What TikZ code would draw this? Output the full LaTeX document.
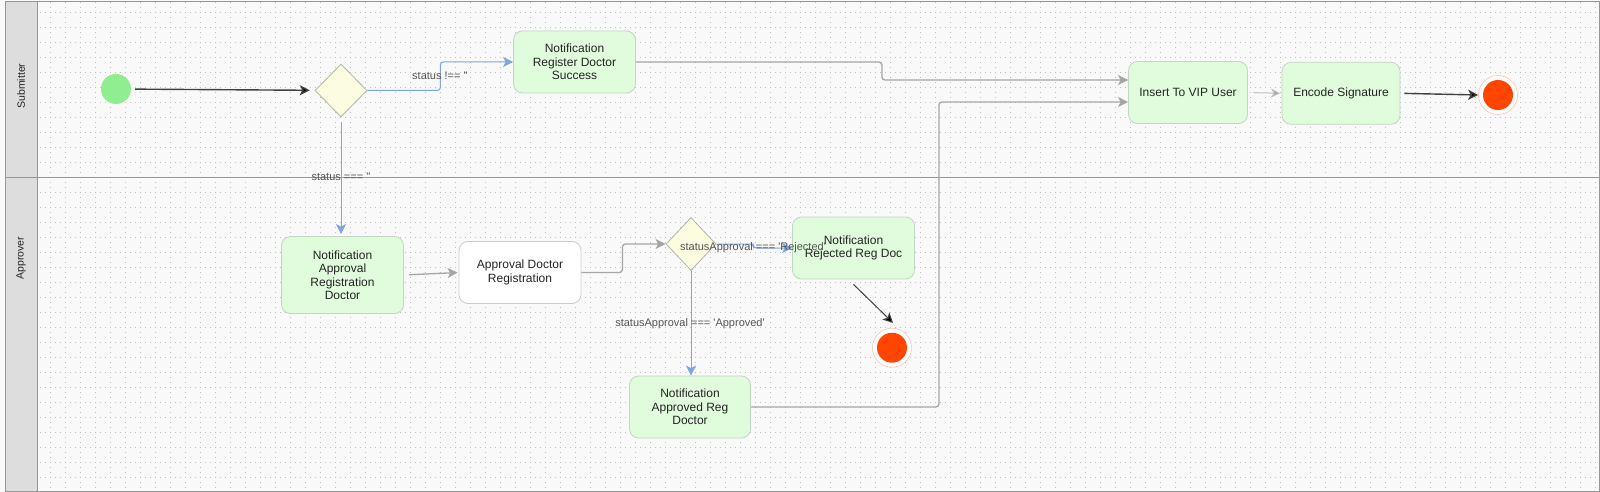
\documentclass[tikz,border=0pt]{standalone}
\usepackage{fontspec}
\setmainfont{Liberation Sans}
\usetikzlibrary{shapes.geometric,arrows.meta}
\definecolor{lanegray}{RGB}{150,150,150}
\definecolor{headgray}{RGB}{221,221,221}
\definecolor{canvas}{RGB}{249,249,249}
\definecolor{dotgray}{RGB}{192,192,192}
\definecolor{actgreen}{RGB}{224,252,220}
\definecolor{actborder}{RGB}{194,214,194}
\definecolor{decyellow}{RGB}{252,252,224}
\definecolor{decborder}{RGB}{180,180,172}
\definecolor{startgreen}{RGB}{144,238,144}
\definecolor{endred}{RGB}{255,69,0}
\definecolor{endring}{RGB}{255,196,176}
\definecolor{flowblue}{RGB}{126,166,224}
\definecolor{flowgray}{RGB}{165,165,165}
\definecolor{textgray}{RGB}{36,36,36}
\definecolor{labelgray}{RGB}{85,85,85}
\newcommand{\squote}{\textquotesingle}
\tikzset{
  activity/.style={rectangle, rounded corners=9pt, draw=actborder, fill=actgreen,
    line width=0.8pt, minimum width=122pt, minimum height=62pt, inner sep=2pt,
    align=center, text=textgray, font=\fontsize{12}{13.5}\selectfont},
  decision/.style={diamond, draw=decborder, fill=decyellow, line width=0.8pt,
    minimum width=52pt, minimum height=53pt, inner sep=0pt},
  startstate/.style={circle, fill=startgreen, minimum size=30pt, inner sep=0pt},
  endstate/.style={circle, draw=endring, line width=0.6pt, fill=white,
    minimum size=39pt, inner sep=0pt,
    path picture={\fill[endred] (path picture bounding box.center) circle[radius=15pt];}},
  flowlabel/.style={text=labelgray, font=\fontsize{11}{12}\selectfont, inner sep=0pt},
  lanelabel/.style={text=textgray, font=\fontsize{10.5}{12}\selectfont, rotate=90, inner sep=0pt},
  blueflow/.style={draw=flowblue, line width=1pt, rounded corners=3pt,
    -{Stealth[length=10pt,width=10pt,inset=2.5pt,fill=flowblue]}},
  grayflow/.style={draw=flowgray, line width=1.3pt, rounded corners=3pt,
    -{Stealth[length=10pt,width=10pt,inset=2.5pt,fill=flowgray]}},
  lightflow/.style={draw=flowgray!70, line width=1pt,
    -{Stealth[length=9pt,width=9pt,inset=2.5pt,fill=flowgray]}},
  blackflow/.style={draw=black!75, line width=1.4pt,
    -{Stealth[length=10pt,width=10pt,inset=2.5pt,fill=black]}},
  dotgrid/.style={draw=dotgray, line width=0.6pt, dash pattern=on 0.6pt off 4.4pt, step=15pt}
}
\begin{document}
\begin{tikzpicture}[x=1pt,y=-1pt]
  \useasboundingbox (0,0) rectangle (1600,492);
  \fill[canvas] (0,0) rectangle (1600,492);
  \begin{scope}
    \clip (37.5,1.5) rectangle (1599,491);
    \draw[dotgrid, shift={(5,12.3)}] (15,495) grid (1605,-15);
  \end{scope}
  \filldraw[fill=headgray, draw=lanegray, line width=1pt] (5.5,1.5) rectangle (37.5,177);
  \filldraw[fill=headgray, draw=lanegray, line width=1pt] (5.5,177) rectangle (37.5,491);
  \draw[lanegray, line width=1pt] (5.5,1.5) rectangle (1599,491);
  \draw[lanegray, line width=1pt] (37.5,177) -- (1599,177);
  \node[lanelabel] (laneSubmitter) at (21,86) {Submitter};
  \node[lanelabel] (laneApprover) at (21,258) {Approver};

  \node[startstate] (start) at (116,89) {};
  \node[decision] (decStatus) at (341,90.5) {};
  \node[activity] (notifSuccess) at (574.5,62) {Notification\\Register Doctor\\Success};
  \node[activity, minimum width=119pt] (insertVip) at (1188,92.5) {Insert To VIP User};
  \node[activity, minimum width=118pt] (encodeSig) at (1341,93.3) {Encode Signature};
  \node[endstate] (endTop) at (1498,95) {};
  \node[activity, minimum height=77pt] (notifApproval) at (342.5,275) {Notification\\Approval\\Registration\\Doctor};
  \node[activity, fill=white, draw=black!20] (approvalDoc) at (520,272.5) {Approval Doctor\\Registration};
  \node[decision, minimum width=50pt] (decApproval) at (691,244) {};
  \node[activity] (notifRejected) at (853.5,248) {Notification\\Rejected Reg Doc};
  \node[endstate] (endBottom) at (892,347.7) {};
  \node[activity, minimum width=121pt] (notifApproved) at (690,407) {Notification\\Approved Reg\\Doctor};

  \draw[blackflow, shorten <=4pt, shorten >=5pt] (start) -- (decStatus);
  \draw[blueflow] (decStatus.east) -- ++(73,0) |- (notifSuccess.west);
  \draw[blueflow, shorten <=5pt, shorten >=2pt] (decStatus.south) -- (decStatus.south |- notifApproval.north);
  \draw[grayflow, shorten <=5pt, shorten >=1pt] (notifApproval.east) -- (approvalDoc.west);
  \draw[grayflow] (approvalDoc.east) -- ++(41,0) |- (decApproval.west);
  \draw[blueflow] (decApproval.east) -- ++(37,0) |- (notifRejected.west);
  \draw[blueflow] (decApproval.south) -- (decApproval.south |- notifApproved.north);
  \draw[blackflow, line width=1pt] ([yshift=-5pt]notifRejected.south) -- ([xshift=1pt,yshift=5pt]endBottom.north);
  \draw[grayflow] (notifSuccess.east) -- ++(246,0) |- ([yshift=12.5pt]insertVip.west);
  \draw[grayflow] (notifApproved.east) -- ++(188,0) |- ([yshift=-9.5pt]insertVip.west);
  \draw[lightflow, shorten <=5.5pt, shorten >=1.5pt] (insertVip.east) -- (encodeSig.west);
  \draw[blackflow, shorten <=4pt] (encodeSig.east) -- (endTop.west);

  \node[flowlabel] (lblNotEmpty) at (440,76) {status !== \squote\squote};
  \node[flowlabel] (lblEmpty) at (341,177) {status === \squote\squote};
  \node[flowlabel] (lblRejected) at (753,247.3) {statusApproval === \squote Rejected\squote};
  \node[flowlabel] (lblApproved) at (690,323.3) {statusApproval === \squote Approved\squote};
\end{tikzpicture}
\end{document}
